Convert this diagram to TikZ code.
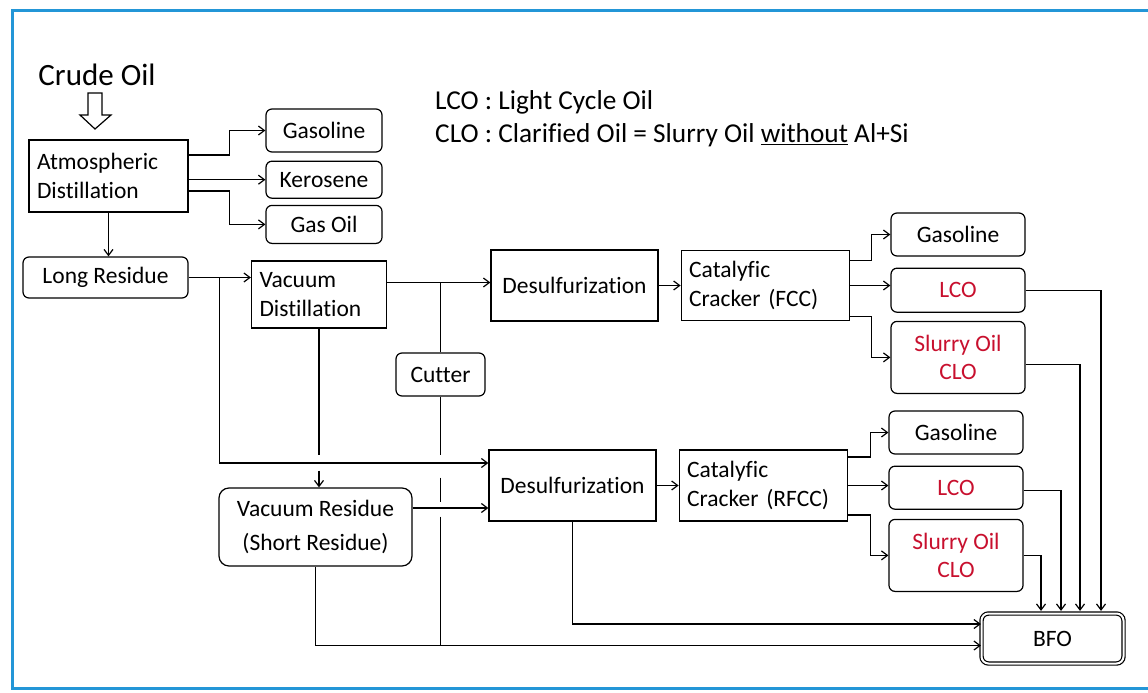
\documentclass[tikz,border=0pt]{standalone}
\usepackage{fontspec}
\setmainfont{Carlito}[Ligatures=NoCommon]
\usepackage{xcolor}
\usepackage{tikz}
\usetikzlibrary{arrows.meta,positioning}
\definecolor{oilred}{RGB}{200,16,46}
\definecolor{frameblue}{RGB}{35,150,215}

\begin{document}
\begin{tikzpicture}[x=1pt, y=-1pt,
  unit/.style={draw, line width=1.2pt, minimum height=71pt, inner sep=8pt, align=left, font=\fontsize{23.5}{28.5}\selectfont},
  prod/.style={draw, line width=1.2pt, rounded corners=6pt, minimum height=43pt, inner sep=3pt, align=center, font=\fontsize{23.5}{28.5}\selectfont},
  flow/.style={-{Straight Barb[length=6pt,width=9pt]}, line width=1.2pt},
  line/.style={line width=1.2pt}]
\useasboundingbox (0,0) rectangle (1148,693);
\draw[frameblue, line width=3pt] (12,11) rectangle (1170,688);

% crude oil feed
\node[font=\fontsize{31}{36}\selectfont] (crude) at (97,75) {Crude Oil};
\draw[line] (88,93) -- (102,93) -- (102,115) -- (111,115) -- (95,129) -- (80,115) -- (88,115) -- cycle;

% legend
\node[anchor=north west, align=left, inner sep=0pt, font=\fontsize{27.3}{33}\selectfont] (legend) at (435,90)
  {LCO : Light Cycle Oil\\CLO : Clarified Oil = Slurry Oil \underline{without} Al+Si};

% atmospheric stage
\node[unit, text width=143pt, minimum height=72pt] (atm) at (108.5,176) {Atmospheric\\Distillation};
\node[prod, minimum width=116pt] (gasA) at (324,130.5) {Gasoline};
\node[prod, minimum width=116pt, minimum height=37pt, below=8pt of gasA] (kero) {Kerosene};
\node[prod, minimum width=116pt, minimum height=38pt, below=6pt of kero] (gasoil) {Gas Oil};
\node[prod, minimum width=165pt, minimum height=41pt] (longres) at (105.5,277.5) {Long Residue};

% vacuum stage
\node[unit, text width=119pt, minimum height=67pt] (vacdist) at (319,294.5) {Vacuum\\Distillation};
\node[prod, minimum width=89pt] (cutter) at (440.5,374.5) {Cutter};
\node[prod, minimum width=193pt, minimum height=78pt, rounded corners=10pt, font=\fontsize{23.5}{33.5}\selectfont] (vacres) at (315.5,527) {Vacuum Residue\\(Short Residue)};

% FCC line
\node[unit, text width=151pt, align=center] (desulf1) at (574.5,285.5) {Desulfurization};
\node[unit, text width=152pt, minimum height=70pt, right=22pt of desulf1] (cat1) {Catalyfic\\Cracker (FCC)};
\node[prod, minimum width=134pt] (gas1) at (958,234.5) {Gasoline};
\node[prod, minimum width=134pt, minimum height=44pt, below=11pt of gas1, text=oilred] (lco1) {LCO};
\node[prod, minimum width=134pt, minimum height=72pt, below=8pt of lco1, text=oilred] (slurry1) {Slurry Oil\\CLO};

% RFCC line
\node[unit, text width=151pt, align=center] (desulf2) at (572.5,485.5) {Desulfurization};
\node[unit, text width=152pt, right=22pt of desulf2] (cat2) {Catalyfic\\Cracker (RFCC)};
\node[prod, minimum width=134pt] (gas2) at (956,432.5) {Gasoline};
\node[prod, minimum width=134pt, below=11pt of gas2, text=oilred] (lco2) {LCO};
\node[prod, minimum width=134pt, minimum height=72pt, below=9pt of lco2, text=oilred] (slurry2) {Slurry Oil\\CLO};

\node[prod, double, double distance=2pt, minimum width=142pt, minimum height=50pt, rounded corners=7pt] (bfo) at (1052.5,638.5) {BFO};

% connectors
\draw[flow] ([yshift=21pt]atm.east) -- ++(41,0) |- (gasA);
\draw[flow] (atm.east |- kero) -- (kero);
\draw[flow] ([yshift=-15pt]atm.east) -- ++(41,0) |- (gasoil);
\draw[flow] (atm.south) -- (atm.south |- longres.north);
\draw[flow] (longres.east) -- (longres.east -| vacdist.west);
\draw[flow] (longres.east) ++(31,0) |- ([yshift=22.5pt]desulf2.west);

\coordinate (vdout) at ([yshift=12pt]vacdist.east);
\draw[flow] (vdout) -- (vdout -| desulf1.west);
\draw[line] (cutter.north) -- (cutter.north |- vdout);
\draw[line] (vacdist.south) -- ++(0,126);
\draw[flow] (vacdist.south) ++(0,142) -- (vacdist.south |- vacres.north);

\coordinate (vrout) at ([yshift=19pt]vacres.east);
\draw[flow] (vrout) -- (vrout -| desulf2.west);
\coordinate (bfolow) at ([yshift=-7pt]bfo.west);
\draw[flow] (vacres.south) |- (bfolow);
\draw[line] (cutter.south) -- ++(0,58) ++(0,23) -- ++(0,24) ++(0,15) -- (cutter.south |- bfolow);
\draw[flow] (desulf2.south) |- ([yshift=14.5pt]bfo.west);

\draw[flow] (desulf1.east) -- (desulf1.east -| cat1.west);
\draw[flow] (desulf2.east) -- (desulf2.east -| cat2.west);

\draw[flow] ([yshift=25pt]cat1.east) -- ++(22,0) |- (gas1);
\draw[flow] (cat1.east) -- (cat1.east -| lco1.west);
\draw[flow] ([yshift=-31pt]cat1.east) -- ++(22,0) |- (slurry1);
\draw[flow] ([yshift=28.5pt]cat2.east) -- ++(23,0) |- (gas2);
\draw[flow] (cat2.east) -- (cat2.east -| lco2.west);
\draw[flow] ([yshift=-29.5pt]cat2.east) -- ++(23,0) |- (slurry2);

\draw[flow, shorten >=2pt] (lco1.east) -| ([xshift=48.5pt]bfo.north);
\draw[flow, shorten >=2pt] ([yshift=-7pt]slurry1.east) -| ([xshift=27.5pt]bfo.north);
\draw[flow, shorten >=2pt] ([yshift=-2.5pt]lco2.east) -| ([xshift=8.5pt]bfo.north);
\draw[flow, shorten >=2pt] (slurry2.east) -| ([xshift=-11.5pt]bfo.north);
\end{tikzpicture}
\end{document}
